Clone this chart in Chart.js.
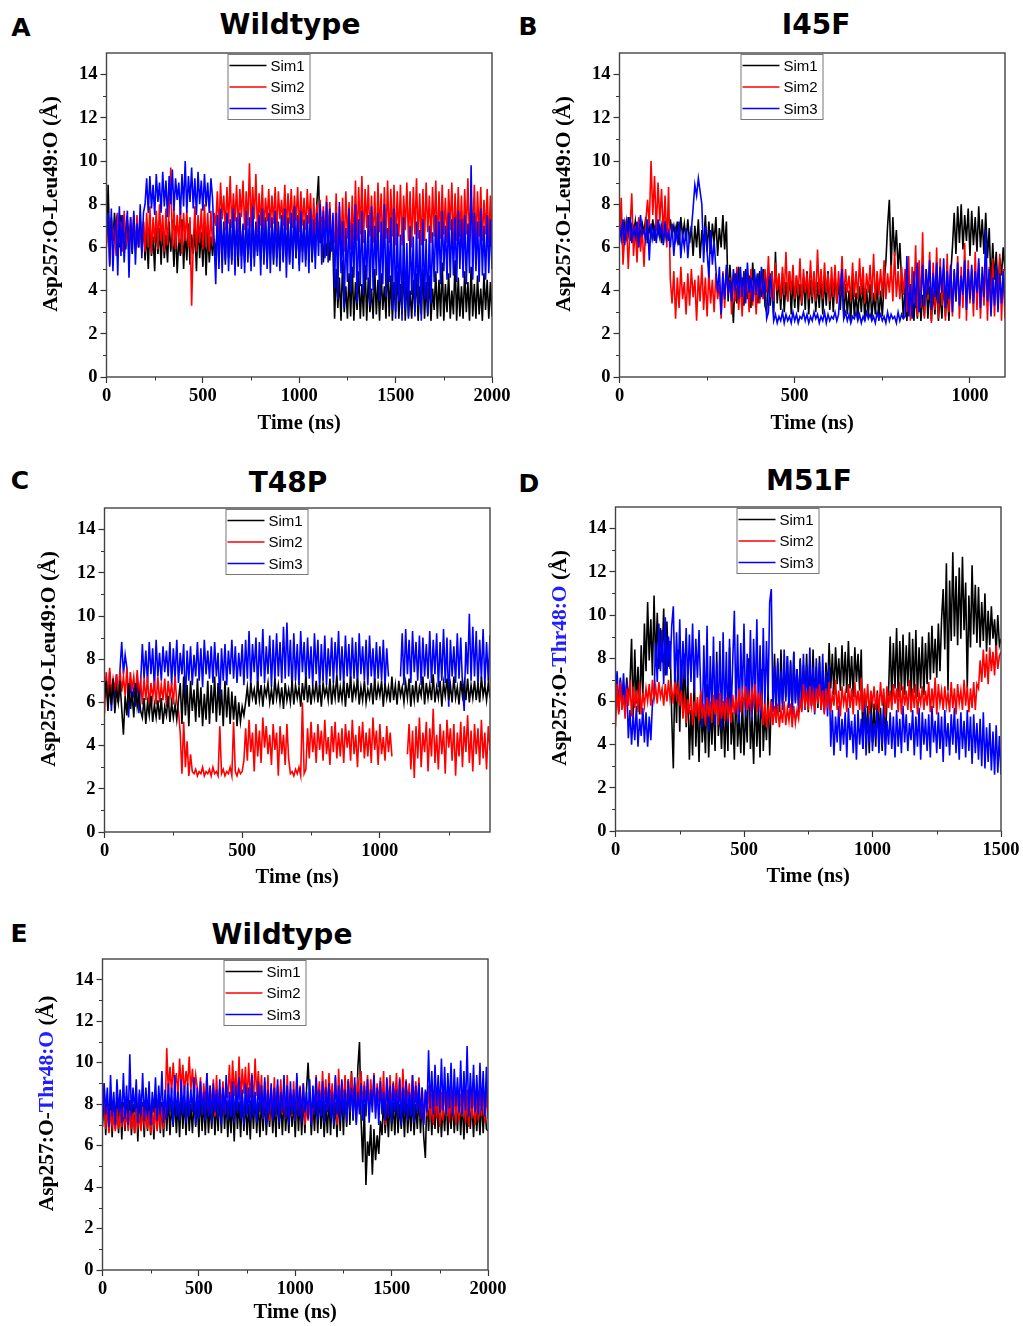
<!DOCTYPE html>
<html>
<head>
<meta charset="utf-8">
<script src="https://cdn.jsdelivr.net/npm/chart.js@4.4.1/dist/chart.umd.min.js"></script>
<style>
  html, body { margin: 0; padding: 0; background: #fff; }
  #page { position: relative; width: 1023px; height: 1326px; overflow: hidden; }
  .box { position: absolute; }
  .tag { position: absolute; font-family: 'DejaVu Sans'; font-weight: bold; font-size: 25px; color: #000; transform: translate(-50%, -50%); line-height: 1; }
  .ttl { position: absolute; font-family: 'DejaVu Sans'; font-weight: bold; font-size: 28px; color: #000; transform: translate(-50%, -50%); line-height: 1; white-space: nowrap; }
</style>
</head>
<body>
<div id="page">
  <div class="tag" style="left:21px;top:27px">A</div>
  <div class="ttl" style="left:290px;top:25px">Wildtype</div>
  <div class="tag" style="left:528px;top:26px">B</div>
  <div class="ttl" style="left:816px;top:25px">I45F</div>
  <div class="tag" style="left:20px;top:480px">C</div>
  <div class="ttl" style="left:288px;top:483px">T48P</div>
  <div class="tag" style="left:529px;top:483px">D</div>
  <div class="ttl" style="left:809px;top:481px">M51F</div>
  <div class="tag" style="left:19px;top:933px">E</div>
  <div class="ttl" style="left:282px;top:935px">Wildtype</div>

  <div class="box" style="left:0px;top:45px"><canvas id="cA" width="512" height="400"></canvas></div>
  <div class="box" style="left:512px;top:45px"><canvas id="cB" width="511" height="400"></canvas></div>
  <div class="box" style="left:0px;top:500px"><canvas id="cC" width="512" height="400"></canvas></div>
  <div class="box" style="left:512px;top:500px"><canvas id="cD" width="511" height="400"></canvas></div>
  <div class="box" style="left:0px;top:952px"><canvas id="cE" width="512" height="374"></canvas></div>
</div>
<script>
// axis ticks
const yTicks = [0, 2, 4, 6, 8, 10, 12, 14];
const yMinor = [1, 3, 5, 7, 9, 11, 13];
const xTicksA = [0, 500, 1000, 1500, 2000], xMinorA = [250, 750, 1250, 1750];
const xTicksB = [0, 500, 1000], xMinorB = [250, 750];
const xTicksC = [0, 500, 1000], xMinorC = [250, 750, 1250];
const xTicksD = [0, 500, 1000, 1500], xMinorD = [250, 750, 1250];
const xTicksE = [0, 500, 1000, 1500, 2000], xMinorE = [250, 750, 1250, 1750];
const simNames = ['Sim1', 'Sim2', 'Sim3'];

// A - Wildtype, 0-2000 ns, evenly spaced frames
const tEndA = 2000;
const simA1 = [6.2,8.9,5.9,7.4,6.3,7.6,5.8,7.2,6.0,7.5,6.1,7.0,5.9,7.3,6.4,7.1,5.7,7.5,6.2,6.9,6.0,7.4,5.8,7.2,
  5.4,6.8,5.0,7.1,5.6,6.5,4.9,7.3,5.7,6.9,5.2,7.0,5.5,6.6,5.3,7.2,5.8,6.7,5.1,7.0,4.8,6.4,5.6,7.3,5.0,6.8,5.4,7.1,5.2,6.6,5.7,6.9,4.9,7.2,5.5,6.7,5.1,7.0,4.7,6.8,5.3,6.5,5.6,6.4,
  5.6,7.2,5.3,7.4,5.8,6.9,5.2,7.5,5.5,7.1,5.4,7.3,5.9,6.8,5.1,7.4,5.6,7.0,5.3,7.2,
  5.7,6.9,5.2,7.6,5.5,7.0,5.8,7.3,5.4,7.1,5.6,7.4,5.3,6.9,5.7,7.2,5.2,7.5,5.5,7.0,
  5.8,7.3,5.4,7.1,5.6,7.4,5.3,6.9,5.7,7.2,5.5,7.5,5.2,7.0,5.8,7.3,5.4,7.1,5.6,7.4,
  5.3,7.0,5.7,8.1,9.3,6.2,7.4,5.3,6.4,5.6,7.0,5.4,6.8,5.9,
  2.7,5.0,3.2,4.6,2.6,5.4,3.0,4.2,2.7,4.8,2.8,5.1,2.6,4.4,3.1,4.9,2.7,4.3,2.8,5.2,
  2.6,4.6,3.0,4.1,2.7,5.0,2.9,4.5,2.6,4.8,3.1,4.2,2.7,5.5,2.8,4.7,2.6,4.4,3.0,4.9,
  2.7,4.3,2.9,5.1,2.6,4.6,2.8,4.0,2.7,4.5,3.0,4.8,2.6,4.2,2.9,5.0,2.7,4.4,2.8,4.7,
  2.6,4.1,3.1,4.9,2.7,4.5,2.8,5.3,2.6,4.3,3.0,4.8,2.7,4.0,2.9,5.4,2.6,4.6,2.8,4.2,
  2.7,4.9,3.0,4.4,2.6,5.1,2.8,4.3,2.7,4.7,2.9,4.1,2.6,4.8,3.1,4.5,2.7,4.4,2.8];
const simA2 = [6.0,7.5,5.2,7.3,6.4,7.0,5.6,7.6,6.2,7.2,5.8,7.7,6.1,6.9,5.7,7.4,6.3,7.1,5.9,7.5,6.0,7.3,5.8,7.2,
  5.8,7.6,6.0,7.9,5.7,7.4,6.2,7.7,5.9,8.0,6.3,7.5,5.8,7.8,6.1,7.6,9.7,6.0,7.8,5.9,7.5,6.2,7.9,5.7,7.6,6.3,7.7,6.0,7.4,3.3,6.1,7.9,5.8,7.5,6.2,7.8,5.9,8.0,6.0,7.6,5.8,7.7,6.1,7.6,
  7.0,8.6,6.7,9.0,7.3,8.4,6.8,8.8,7.1,9.3,6.9,8.5,7.2,8.9,6.7,8.7,7.4,9.1,6.8,8.6,
  7.0,9.9,6.9,8.8,7.3,9.4,6.7,8.5,7.0,8.9,6.8,8.3,7.2,8.7,6.9,8.4,7.1,8.8,6.7,8.6,
  7.3,8.2,7.0,8.9,6.8,8.5,7.1,8.7,6.9,8.4,7.2,8.8,6.7,8.6,7.0,8.3,6.8,8.7,7.1,8.5,
  6.4,8.3,6.6,8.0,6.3,8.2,6.5,7.9,6.4,8.4,6.6,8.1,6.3,6.8,
  6.2,8.5,5.6,7.9,6.0,8.3,5.8,8.6,6.4,8.1,5.9,8.4,6.1,9.1,6.3,8.8,6.6,9.3,6.2,8.7,
  6.9,8.9,6.5,8.4,6.2,8.6,5.9,9.0,6.7,8.5,6.0,8.8,6.4,9.1,6.2,8.7,6.5,8.9,6.1,8.6,
  6.5,8.9,6.1,8.4,6.8,9.0,6.3,8.6,6.0,8.8,6.6,9.2,6.4,8.5,6.1,8.7,6.3,9.0,6.7,8.4,
  6.2,8.8,6.5,9.1,6.0,8.6,6.4,8.9,6.6,8.3,6.2,8.7,6.8,9.0,6.1,8.5,6.3,8.8,6.5,8.4,
  6.0,8.7,6.6,9.2,6.2,8.5,6.4,8.9,6.1,8.6,6.5,8.8,6.3,8.2,6.6,8.7,6.2,8.4,6.3];
const simA3 = [6.5,7.6,5.1,7.8,4.9,6.9,7.3,4.7,7.9,5.6,7.5,5.3,6.8,7.7,4.6,7.4,5.8,7.7,5.2,7.1,6.0,8.0,5.5,7.6,
  8.0,9.2,7.6,9.3,7.8,8.9,7.5,9.4,8.1,9.0,7.6,9.5,7.9,9.1,7.4,9.3,8.0,9.6,7.7,9.2,8.2,9.0,7.5,9.4,7.9,10.0,7.6,9.3,8.1,9.7,7.8,9.2,7.5,9.5,8.0,9.1,7.7,9.4,7.9,9.0,7.6,9.2,8.3,6.3,
  4.3,7.5,5.0,7.8,4.8,7.2,5.4,7.6,4.9,7.3,5.2,7.8,4.7,7.4,5.5,7.6,5.0,7.1,4.8,7.7,
  5.3,7.4,4.9,7.9,5.1,7.2,5.6,7.5,4.7,7.8,5.2,7.3,5.0,7.6,4.8,7.4,5.4,7.7,5.1,7.2,
  4.9,7.5,5.3,7.8,4.6,7.3,5.2,7.6,5.0,7.9,5.5,7.4,4.9,7.7,5.3,7.2,5.1,7.5,4.8,7.8,
  5.4,7.3,5.0,7.6,5.6,8.0,5.2,7.7,5.5,8.1,5.3,7.8,5.8,7.6,
  4.1,7.6,3.6,8.1,4.8,7.2,3.2,6.9,4.4,7.8,3.9,7.1,4.6,8.0,3.4,7.3,4.2,7.7,3.8,6.8,
  4.5,7.5,3.3,7.9,4.0,7.0,4.7,7.6,3.5,7.2,4.3,8.0,3.7,6.9,4.4,7.4,3.1,7.8,
  2.7,7.1,3.5,6.6,2.6,7.4,3.1,6.2,2.7,7.0,3.8,6.5,2.8,7.2,3.3,6.8,2.6,7.3,3.6,6.4,2.9,7.0,3.4,6.7,
  4.4,7.5,4.8,7.2,4.3,7.7,4.9,7.0,4.5,7.6,4.6,7.3,4.7,7.4,4.4,7.7,5.0,7.3,4.6,7.5,
  4.3,7.1,4.8,9.8,4.5,7.6,4.9,7.2,4.4,7.8,4.7,7.0,4.5,7.5,4.8,7.3,5.0];

// B - I45F, 0-1100 ns
const tEndB = 1100;
const simB1 = [6.6,7.3,6.2,7.1,6.5,7.4,6.3,7.0,6.6,7.2,6.1,7.3,6.4,7.1,6.7,7.4,6.2,7.0,6.5,7.3,6.3,7.2,6.6,7.0,6.2,7.4,6.5,7.1,6.3,7.3,6.6,7.0,6.4,7.2,6.1,7.4,6.5,7.1,6.3,7.3,6.2,7.0,
  5.6,7.0,6.0,7.3,5.5,6.8,6.1,7.5,5.8,7.2,5.7,7.1,6.2,7.4,5.6,6.9,6.0,7.5,5.9,7.2,
  3.5,5.2,4.0,2.5,4.8,3.4,5.1,3.8,4.6,3.3,5.0,3.6,4.7,3.2,5.3,3.9,4.5,3.4,4.9,3.7,5.0,3.3,
  3.0,4.7,3.3,4.9,2.9,5.8,3.4,4.6,3.1,4.8,3.0,4.4,3.5,4.9,2.9,4.5,3.2,4.7,3.0,4.3,3.3,4.6,3.1,4.9,2.9,4.5,3.4,4.8,3.0,4.4,3.2,4.7,2.9,4.6,3.3,4.9,3.1,4.5,3.0,4.8,3.4,4.4,3.1,4.6,
  2.7,4.3,2.9,4.0,2.6,4.5,2.8,3.9,2.7,4.2,3.0,4.4,2.6,4.1,2.8,4.3,2.7,3.9,2.9,4.5,2.6,4.0,2.8,4.4,
  5.3,7.0,8.2,4.9,7.4,5.6,6.8,5.0,6.2,4.4,
  2.7,4.3,2.6,3.9,2.8,4.5,2.6,4.0,2.7,4.4,2.6,3.8,2.8,4.6,2.7,4.2,2.6,4.0,2.9,4.4,2.6,3.9,2.7,4.5,2.8,4.1,2.6,4.7,
  6.0,7.6,5.7,7.9,6.2,8.0,5.9,7.5,6.3,7.8,5.6,7.7,6.1,7.4,5.8,7.9,6.0,7.3,5.7,7.6,5.5,6.9,
  4.2,6.2,4.5,5.8,4.0,5.5,4.7,6.0,4.9];
const simB2 = [6.2,8.3,5.2,6.6,7.3,5.0,6.9,8.5,5.6,7.0,5.3,7.4,5.8,6.8,5.1,7.2,
  8.2,7.0,10.0,7.5,9.3,6.8,9.0,7.2,8.7,6.5,8.4,6.0,
  8.8,4.5,
  3.4,4.9,2.7,4.6,3.2,5.1,3.6,4.4,2.9,4.8,3.3,5.0,3.7,4.5,2.6,4.7,3.5,5.2,3.1,4.6,
  2.8,4.9,3.4,4.5,3.0,4.8,3.6,4.3,2.7,4.9,3.2,5.0,3.8,4.6,2.9,4.7,3.5,5.1,3.1,4.4,
  2.8,4.8,3.6,4.6,3.0,5.0,3.3,4.5,2.9,4.7,3.4,4.8,
  3.6,5.0,3.9,5.6,3.7,4.9,3.5,5.3,4.0,4.8,3.6,5.1,3.8,5.8,3.5,4.9,3.9,5.2,3.6,4.7,
  3.8,5.5,3.4,5.0,3.9,4.8,3.6,5.4,3.7,4.9,3.5,5.9,3.8,5.0,3.6,5.3,3.9,4.8,3.5,5.1,
  3.7,5.2,3.4,4.9,3.8,5.6,3.6,5.0,3.9,4.7,3.5,5.3,3.7,4.9,3.6,5.5,3.8,5.1,3.4,4.8,
  3.9,5.2,3.6,5.7,3.5,4.9,3.8,5.0,3.7,5.4,3.6,4.8,3.9,5.2,3.5,5.8,3.7,4.9,3.6,5.1,3.8,5.0,
  3.0,5.6,2.6,5.1,3.4,6.1,2.8,5.4,3.2,6.7,2.7,5.0,3.6,5.8,2.5,5.3,3.1,6.0,2.7,5.5,
  3.3,5.0,2.6,5.7,3.0,5.2,2.8,4.9,3.5,5.6,2.7,5.1,3.2,6.2,2.6,5.4,3.4,5.0,2.8,5.8,
  3.1,5.3,2.7,4.8,3.3,5.6,2.6,5.1,3.0,5.5,2.8,4.9,3.2,5.7,2.6,5.0,2.7];
const simB3 = [7.0,6.4,7.3,6.1,7.2,6.6,7.4,6.2,6.9,6.5,7.2,6.0,7.5,6.6,6.8,6.3,7.3,5.4,7.1,6.4,6.9,6.2,7.3,6.5,7.0,6.1,7.2,6.4,6.7,6.0,7.1,5.6,6.8,6.3,7.2,5.5,6.6,6.0,6.9,5.5,6.6,6.8,
  7.8,8.9,8.4,9.2,8.6,8.0,
  5.3,7.0,5.8,4.6,6.8,5.2,6.3,5.0,
  3.9,5.1,2.9,4.8,3.6,5.2,3.8,4.5,3.5,5.0,4.1,4.7,3.6,5.1,3.7,4.9,3.4,5.3,3.9,4.6,3.5,5.0,3.8,4.8,3.6,5.1,3.9,4.4,
  2.7,3.0,4.8,3.9,2.6,2.9,2.5,2.8,2.6,3.0,2.5,2.9,2.6,2.8,2.5,3.0,2.6,2.9,2.5,2.8,2.7,3.0,2.6,2.9,2.5,2.8,2.6,3.0,2.7,2.9,2.5,2.8,2.6,3.0,2.5,2.9,2.6,2.8,2.7,3.0,2.6,2.9,4.2,5.0,
  2.7,3.0,2.6,2.9,2.5,2.8,2.7,3.0,2.6,2.9,2.5,2.8,2.6,3.0,2.7,2.9,2.6,2.8,2.5,3.0,2.7,2.9,2.6,2.8,2.5,3.0,2.6,2.9,2.7,2.8,2.5,3.0,2.6,2.9,2.7,2.8,
  5.6,2.8,4.3,2.7,4.9,3.2,5.3,3.0,
  3.6,5.2,3.3,5.0,3.8,5.4,3.1,4.8,3.7,5.3,3.4,5.1,3.9,5.5,3.2,4.9,3.6,5.2,3.0,5.0,
  3.5,5.3,3.3,4.7,3.8,5.4,3.1,5.0,3.6,5.2,3.4,4.9,3.9,5.5,3.2,5.1,3.7,6.8,3.5,5.0,
  2.8,4.6,3.3,5.2,3.0,4.8,3.4,4.9,3.3];

// C - T48P, 0-1400 ns (null = no frames)
const tEndC = 1400;
const simC1 = [6.2,7.0,5.6,6.8,5.9,7.1,5.5,6.6,6.0,7.0,5.7,4.5,6.3,5.4,6.9,5.7,6.5,5.3,6.9,5.8,6.4,5.6,
  5.3,6.2,5.0,6.0,5.4,6.3,5.1,5.9,5.3,6.1,5.2,6.2,5.0,5.8,5.4,6.3,5.1,6.0,5.3,5.9,5.2,6.1,
  6.9,5.0,7.2,5.4,6.8,4.9,7.0,5.6,6.6,5.1,7.1,5.3,6.7,4.9,6.4,5.2,7.0,5.0,6.8,5.5,
  7.2,5.1,6.9,5.4,6.6,4.9,7.0,5.3,6.7,5.0,6.5,5.2,6.3,4.9,6.0,5.1,5.8,5.4,
  6.0,6.7,5.8,6.9,6.2,6.6,5.9,7.0,6.1,6.8,5.8,6.7,6.3,6.9,6.0,6.6,5.9,7.1,6.2,6.8,
  6.0,6.7,5.7,6.9,6.1,6.6,6.0,7.0,5.9,6.8,6.2,6.7,5.8,6.9,6.1,7.2,6.0,6.8,5.9,6.7,
  6.2,7.0,6.0,6.8,5.8,6.9,6.3,6.7,6.1,7.1,5.9,6.8,6.2,7.3,6.0,6.7,6.1,7.0,5.8,6.9,
  6.2,7.2,6.0,6.8,6.3,7.1,5.9,6.7,6.1,7.0,6.0,6.6,6.2,6.9,5.9,7.1,6.1,6.8,6.3,7.0,
  5.8,6.9,6.2,6.7,6.0,7.2,6.1,6.8,5.9,7.0,6.3,6.7,6.0,6.9,6.2,7.1,5.8,6.8,6.1,7.0,
  6.0,6.7,6.3,7.2,5.9,6.9,6.2,6.8,6.1,7.3,6.0,6.7,6.2,7.0,5.8,6.9,6.3,7.1,6.1,6.8,
  6.0,7.2,6.2,6.7,5.9,7.0,6.3,6.9,6.1,7.1,6.0,6.8,6.2,7.0,6.1,6.9,6.0,7.2,6.3,6.8,
  6.1,6.9,6.2];
const simC2 = [5.5,7.4,6.2,7.6,6.4,7.1,6.6,7.3,6.0,7.5,6.5,7.2,6.3,7.6,6.1,7.4,6.6,7.2,6.3,7.5,6.4,7.0,
  5.9,7.1,6.1,7.2,5.8,6.9,6.2,7.0,5.9,7.2,6.0,6.8,6.1,7.1,5.8,7.0,6.2,6.9,5.9,7.2,6.0,5.6,
  4.6,2.7,5.1,3.0,4.2,2.6,3.6,2.8,
  2.7,2.9,2.6,2.8,2.7,3.0,2.6,2.8,2.7,2.9,2.6,3.0,2.7,2.8,2.6,4.9,2.7,2.9,2.6,2.8,2.7,3.0,2.6,5.1,2.8,2.6,2.9,2.7,2.8,3.3,
  4.8,3.3,5.2,3.7,4.6,2.8,5.0,3.5,4.7,3.2,5.3,3.9,4.9,3.6,4.5,3.1,5.0,3.8,4.6,2.6,
  4.9,3.6,4.5,3.1,5.0,3.4,2.7,2.8,2.6,2.9,2.7,3.0,2.6,6.0,2.7,2.9,4.8,3.4,5.1,3.7,
  4.6,3.2,5.0,3.8,4.7,3.3,5.2,3.6,4.4,3.1,4.9,3.7,5.1,3.4,4.6,3.5,4.8,3.2,5.0,3.9,
  4.7,3.3,5.2,3.6,4.5,3.0,4.9,3.7,5.1,3.4,4.6,3.5,4.8,3.2,5.3,3.8,4.7,3.1,5.0,3.6,
  4.4,3.3,4.9,3.7,4.6,3.5,
  null,null,null,null,null,null,null,null,
  3.6,5.0,2.9,4.7,2.5,4.9,3.4,5.3,3.0,4.6,3.7,5.1,2.8,4.8,3.5,5.7,3.2,4.5,2.9,5.0,
  3.6,4.7,2.7,5.2,3.9,4.8,3.3,5.0,2.6,4.6,3.5,5.1,3.0,4.9,3.7,5.4,3.2,4.7,2.8,5.0,
  3.6,4.8,3.1,5.2,3.4,4.6,2.9,4.9,3.8];
const simC3 = [6.5,7.2,5.9,7.4,5.6,7.0,6.2,7.3,6.0,7.5,
  8.8,7.3,8.2,7.6,
  5.3,7.1,6.0,6.6,5.8,7.2,5.5,6.9,
  8.7,7.1,8.4,6.9,8.8,7.3,8.5,6.6,8.9,7.2,8.3,7.0,8.6,7.4,8.4,7.2,8.8,6.8,8.5,7.1,
  8.9,6.9,8.3,7.3,8.7,5.9,8.4,7.0,8.6,6.8,8.2,7.2,8.8,7.0,8.5,6.7,8.9,7.3,8.4,7.1,
  8.6,6.9,8.8,7.2,8.3,6.0,8.5,7.0,8.7,6.8,8.4,7.3,8.9,7.1,8.6,6.9,8.3,7.2,8.7,6.8,
  8.9,7.1,9.3,6.8,8.7,7.4,9.0,6.6,8.8,7.2,9.4,6.9,8.6,7.3,9.1,6.7,8.9,7.0,9.2,7.2,
  8.8,6.9,9.5,7.1,9.7,7.2,8.9,6.5,9.2,7.0,8.7,6.8,9.3,7.4,8.8,6.9,9.0,7.1,8.6,6.7,
  9.2,7.3,8.9,6.6,8.7,7.0,9.1,6.8,8.5,7.2,9.0,6.9,8.8,7.3,9.3,7.0,8.6,6.8,9.1,7.2,
  8.7,6.9,9.0,7.1,8.8,6.7,9.2,7.3,8.6,7.0,8.9,6.8,9.1,7.2,8.5,6.9,8.8,7.1,8.6,7.0,
  8.9,6.8,8.5,7.2,
  null,null,null,null,null,null,
  7.2,9.2,6.8,9.4,7.3,8.9,6.9,9.3,7.4,8.8,7.0,9.1,6.8,9.0,7.2,8.7,7.1,9.3,6.9,8.9,
  7.3,9.2,6.7,8.8,7.0,9.4,6.9,9.0,5.8,8.9,7.2,8.6,6.9,9.2,7.1,9.0,6.8,5.6,8.8,7.3,
  10.1,7.0,9.5,7.2,9.3,6.7,8.9,7.1,9.4,6.8,8.8,7.0,9.1];

// D - M51F, 0-1500 ns
const tEndD = 1500;
const simD1 = [6.0,6.9,5.5,7.0,5.8,6.7,5.6,7.1,6.1,6.8,
  8.9,5.2,8.4,5.9,7.6,5.4,8.6,6.2,
  9.6,7.4,10.6,7.9,9.8,7.2,10.9,7.6,10.1,7.5,9.4,7.8,10.3,7.2,9.7,7.6,
  8.8,5.3,2.9,7.6,5.0,8.4,4.6,7.9,5.4,8.2,4.8,7.1,
  3.3,5.6,3.5,7.4,3.9,5.9,3.2,6.3,4.1,5.5,3.6,6.8,3.4,5.8,4.0,6.1,3.7,8.3,4.4,5.7,3.8,6.0,
  3.4,5.8,3.7,8.5,4.0,5.5,3.3,7.0,3.9,5.4,3.6,6.2,3.5,5.6,4.1,8.0,3.8,5.3,3.1,6.4,3.9,5.7,3.4,7.5,3.7,5.5,4.2,6.6,3.5,6.1,
  5.6,8.2,6.0,7.8,5.5,8.4,5.9,7.6,6.2,8.1,5.7,7.9,5.4,8.3,6.0,7.5,5.8,8.0,5.6,7.7,6.1,8.2,5.5,7.9,5.8,8.4,6.0,7.6,5.7,8.1,5.9,7.4,5.6,7.8,
  6.4,8.7,6.6,8.2,6.3,8.5,6.8,8.0,6.5,8.6,6.7,8.3,6.4,8.8,6.6,8.1,6.2,8.5,6.9,8.2,6.5,8.4,
  3.8,6.4,4.3,5.8,3.6,6.2,4.1,5.9,3.9,6.5,4.4,5.7,3.7,6.1,4.2,6.0,
  6.4,9.0,6.1,8.7,6.6,9.4,6.2,8.8,6.5,9.1,6.3,8.6,6.7,9.2,6.0,8.9,6.4,9.3,6.2,8.5,6.6,9.0,6.3,8.7,
  6.8,9.2,7.0,9.5,7.3,8.9,7.1,9.6,7.4,9.8,
  11.2,8.4,12.4,6.5,11.6,8.8,12.9,9.0,11.8,8.6,12.2,8.9,12.7,9.3,11.5,6.6,10.9,8.5,12.3,9.1,11.4,8.7,
  11.3,8.5,10.6,8.8,11.0,8.3,10.2,8.6,10.4,8.9,9.8,8.3,10.0,8.6,8.9];
const simD2 = [4.8,6.8,5.4,6.9,5.6,6.3,5.2,6.6,5.8,7.0,5.3,6.7,5.7,6.5,5.5,6.9,5.4,6.4,5.8,6.6,
  6.0,6.8,5.8,7.0,6.1,6.7,5.9,6.9,6.2,6.6,5.8,6.8,6.0,7.0,6.1,6.6,5.9,6.9,6.2,6.7,5.8,6.5,
  5.2,6.3,5.0,6.1,5.4,6.4,4.9,6.0,5.3,6.2,5.1,6.5,5.2,5.9,4.9,6.2,5.3,6.0,5.0,6.3,5.4,6.1,4.9,6.4,5.2,6.0,5.1,6.2,5.3,5.9,5.0,6.3,5.4,6.1,
  5.6,6.6,5.5,6.4,5.8,6.7,5.6,6.3,5.7,6.5,5.9,6.8,5.5,6.4,5.7,6.2,
  4.9,5.9,4.8,5.7,5.1,6.0,4.9,5.8,5.0,5.9,4.8,5.6,5.0,6.0,4.9,5.7,5.1,5.9,4.8,5.8,5.0,5.6,5.2,6.1,
  5.5,6.8,5.7,6.5,5.6,6.7,5.8,6.4,5.5,6.6,5.9,6.8,5.6,6.5,
  5.4,6.6,5.7,6.9,5.5,6.4,5.8,7.0,5.6,6.5,5.3,6.7,5.9,6.4,5.5,6.8,5.7,6.6,5.4,6.9,
  5.8,6.5,5.6,7.1,5.5,6.6,5.7,6.8,5.4,6.5,5.9,6.7,5.6,6.4,5.5,6.9,5.8,6.6,5.3,6.7,
  5.7,6.5,5.6,6.8,5.9,6.6,5.5,6.9,5.4,6.7,5.8,6.5,5.6,7.0,5.5,6.6,5.7,6.8,5.4,6.4,
  5.9,6.7,5.6,6.5,5.8,6.9,5.5,6.6,5.7,7.1,5.4,6.8,5.9,6.5,5.6,6.7,5.8,6.4,5.5,6.9,
  5.7,6.6,5.4,6.8,5.9,6.5,5.6,7.0,5.8,6.7,5.5,6.6,5.7,6.9,5.6,6.8,
  6.6,7.9,6.9,8.4,7.1,8.2,6.8,8.5,7.4,8.3,7.2,8.6,7.5,8.1,8.3];
const simD3 = [6.2,7.4,5.6,7.1,6.0,7.3,5.8,6.9,
  4.3,5.6,4.0,5.4,4.2,5.8,3.9,5.2,4.4,5.7,4.1,5.5,3.9,5.3,4.2,5.9,
  6.3,8.7,6.9,9.6,7.4,9.3,6.8,9.9,7.2,9.0,7.5,9.5,
  10.4,6.6,9.2,6.8,9.8,6.5,8.8,7.0,9.4,6.7,9.1,6.9,9.6,6.4,8.9,7.1,9.3,6.6,
  4.8,8.6,5.2,9.5,4.6,8.1,5.5,9.0,4.9,7.8,5.3,8.8,4.7,9.2,5.1,8.3,4.9,8.9,5.4,7.9,
  10.2,5.4,9.1,5.0,8.7,6.1,9.6,5.3,8.2,5.7,9.3,5.1,8.9,6.0,9.8,5.5,8.6,5.2,9.4,5.8,8.8,6.2,10.6,11.2,
  5.5,7.6,5.3,8.0,5.8,7.4,5.6,8.4,6.0,8.1,5.7,7.8,5.4,8.3,5.9,7.5,5.5,7.9,5.7,8.2,5.6,7.7,6.1,8.5,5.8,7.6,5.4,8.0,5.9,7.8,5.6,8.2,5.5,7.4,5.3,7.7,
  3.9,5.6,3.5,5.3,4.1,5.8,3.7,5.2,4.0,5.5,3.4,5.7,4.2,5.1,3.6,5.4,3.3,5.6,4.0,5.2,
  3.8,5.9,3.5,5.3,4.1,5.5,3.7,5.0,4.3,5.6,3.6,5.4,3.9,5.7,3.5,5.1,4.0,5.5,3.8,5.3,
  3.4,5.6,3.9,5.2,3.6,5.8,4.1,5.4,3.7,5.0,4.2,5.6,3.5,5.3,3.9,5.7,3.3,5.5,4.0,5.2,
  3.7,5.4,3.4,5.8,4.1,5.1,3.6,5.5,3.8,5.3,3.2,5.6,3.9,5.0,3.5,5.4,4.0,5.7,3.6,5.2,
  3.3,5.5,3.8,5.1,3.4,5.6,3.7,5.3,3.1,5.4,3.6,5.0,3.3,5.2,3.0,5.5,2.9,4.8,3.2,5.0,
  2.8,4.6,2.6,4.9,2.7,4.4,2.6];

// E - Wildtype (Thr48), 0-2000 ns
const tEndE = 2000;
const simE1 = [6.9,8.6,6.5,8.2,6.7,8.4,6.4,8.0,6.8,8.3,6.6,8.5,6.3,8.1,6.7,8.4,6.9,8.2,6.5,8.0,
  6.6,8.3,6.2,8.5,6.8,8.1,6.4,8.4,6.7,8.2,6.5,8.0,6.3,8.3,6.8,8.5,6.6,8.1,6.4,8.2,
  6.7,8.4,6.5,8.0,6.9,8.3,6.6,8.1,6.4,8.5,6.8,8.2,6.5,8.4,6.7,8.0,6.6,8.3,6.9,8.1,
  6.4,8.5,6.7,8.2,6.5,8.4,6.6,8.0,6.8,8.3,6.5,8.1,6.7,8.4,6.6,8.6,6.8,8.2,6.4,8.0,
  6.6,8.3,6.2,8.5,6.8,8.1,6.4,8.4,6.7,8.2,6.5,8.0,6.3,8.3,6.8,8.5,6.6,8.1,6.4,8.2,
  6.7,8.4,6.5,8.0,6.9,8.3,6.6,8.1,6.4,8.5,6.8,8.2,6.5,8.4,6.7,8.0,6.6,8.3,6.9,8.1,
  6.4,8.5,6.7,8.2,6.5,8.4,6.6,8.7,10.0,8.3,6.5,8.1,6.7,8.4,6.6,8.6,6.8,8.2,6.4,8.0,
  6.6,8.3,6.5,8.5,6.8,8.1,6.4,8.4,6.7,8.6,6.5,8.8,6.9,9.2,7.0,9.6,7.2,8.9,7.1,9.8,
  11.0,7.2,5.2,8.0,4.1,6.2,5.5,7.0,4.6,6.8,5.3,6.5,5.6,7.2,6.5,8.2,6.6,8.0,6.4,8.3,
  6.7,8.1,6.5,8.4,6.6,8.0,6.8,8.2,6.4,8.5,6.6,8.1,6.7,8.3,6.5,8.0,6.8,8.4,6.6,8.2,
  6.4,
  5.4,8.6,6.7,8.3,6.5,8.1,6.8,8.4,6.6,8.2,6.4,8.0,6.7,8.3,6.5,8.1,6.8,8.2,6.6,8.0,
  6.7,8.4,6.5,8.2,6.3,8.0,6.6,8.3,6.8,8.1,6.4,8.2,6.7,8.0,6.5,8.3,6.6,8.1,6.8,6.7];
const simE2 = [7.8,9.0,6.8,7.9,6.6,7.7,6.9,7.5,6.7,7.8,6.8,7.6,6.9,7.9,7.0,7.5,6.7,7.7,6.8,7.6,
  6.6,7.8,6.9,7.4,6.7,7.9,7.0,7.6,6.8,7.7,6.6,7.5,6.9,7.8,6.7,7.6,7.0,7.9,6.8,7.7,
  10.7,8.6,9.8,8.5,10.0,8.8,9.5,8.4,10.2,8.7,9.9,8.5,9.6,8.9,10.3,8.6,9.7,8.4,9.4,8.8,
  7.8,9.3,7.5,9.0,7.9,9.5,7.6,8.9,7.8,9.2,7.4,9.4,7.7,8.8,7.9,9.1,7.5,9.0,
  8.3,9.9,8.1,10.1,8.4,9.6,8.0,10.3,8.2,9.7,8.5,9.8,8.1,10.0,8.3,9.5,8.0,10.2,8.4,9.6,8.2,9.4,
  7.3,9.1,7.5,9.4,7.2,8.8,7.6,9.3,7.4,8.9,7.7,9.2,7.5,9.0,7.3,9.4,7.6,8.7,7.4,9.1,7.2,9.3,7.7,8.9,7.5,9.0,
  7.0,7.9,7.2,8.1,7.1,7.8,
  7.8,9.4,8.0,9.1,7.6,9.6,7.9,9.2,7.7,9.5,8.1,9.0,7.8,9.3,7.0,9.7,7.9,9.1,8.0,9.4,
  7.6,9.2,7.8,9.5,8.1,9.0,7.7,9.3,7.9,9.6,7.8,9.1,8.0,9.4,7.7,9.2,7.9,9.5,7.6,9.0,
  8.1,9.3,7.8,9.6,7.0,9.2,7.9,9.4,7.7,9.1,8.0,9.5,7.8,9.3,7.6,9.7,7.9,9.2,8.1,9.0,
  7.7,9.4,7.9,9.1,7.8,9.3,
  7.3,8.8,7.1,8.6,7.4,8.9,7.2,8.5,7.0,8.7,7.3,8.8,6.9,8.6,7.2,8.9,7.4,8.5,7.1,8.7,
  7.3,8.6,7.0,8.8,7.2,8.5,7.4,8.9,7.1,8.7,6.9,8.6,7.3,8.8,7.0,8.5,7.2,8.7,7.4,8.9,
  7.1,8.6,7.3];
const simE3 = [7.2,9.0,7.5,8.8,6.9,9.4,7.4,8.6,7.0,9.2,7.6,8.7,7.1,9.5,7.3,8.9,7.0,10.4,7.4,8.8,
  7.6,9.2,7.1,8.7,7.5,9.5,7.2,8.8,7.4,9.1,7.0,8.6,7.6,9.3,7.2,8.9,7.5,9.6,7.1,8.7,
  7.3,9.0,7.6,8.8,7.0,9.4,7.4,8.6,7.2,9.2,7.5,8.9,7.1,9.0,7.4,8.7,7.6,9.3,7.0,8.8,
  7.3,9.1,7.5,8.6,7.2,9.5,7.4,8.9,7.1,9.0,7.6,8.7,7.3,9.2,7.0,8.8,7.5,9.4,7.2,8.6,
  7.4,9.1,7.1,8.9,7.6,9.3,7.3,8.7,7.0,9.0,7.5,8.8,7.2,9.4,7.4,8.6,7.1,9.1,7.6,8.9,
  7.3,9.3,7.0,8.7,7.5,9.0,7.2,8.8,7.4,9.2,7.1,8.6,7.6,9.4,7.3,8.9,7.0,9.1,7.5,8.7,
  7.2,9.5,7.4,8.8,7.1,9.0,7.6,8.6,7.3,9.2,7.0,8.9,7.5,9.3,7.2,8.7,7.4,9.1,7.1,8.8,
  7.6,9.0,7.3,8.6,7.0,9.4,7.5,8.9,7.2,9.2,7.4,8.7,7.1,9.1,7.6,8.8,7.3,9.3,7.0,8.6,
  7.5,9.0,7.2,8.9,7.4,9.2,7.1,8.7,7.6,9.4,7.3,8.8,7.0,9.1,7.5,8.6,7.2,9.3,7.4,8.9,
  7.1,9.0,7.6,8.7,7.3,9.2,7.0,8.8,7.5,9.1,7.2,8.6,7.4,9.4,7.1,8.9,7.6,9.0,7.3,8.8,
  7.0,8.7,
  7.6,10.6,7.8,9.6,7.5,9.9,7.9,9.4,7.6,10.2,7.7,9.8,7.5,9.5,7.8,10.0,7.4,9.7,7.9,9.3,
  7.6,10.1,7.5,9.6,7.7,10.8,7.4,9.5,7.8,9.9,7.6,9.4,7.5,10.0,7.7,9.6,7.4,9.8,7.5];

const labelLeu = [{ t: 'Asp257:O-Leu49:O (Å)', c: '#000' }];
const labelThr = [{ t: 'Asp257:O-', c: '#000' }, { t: 'Thr48:O', c: '#1f1fff' }, { t: ' (Å)', c: '#000' }];
const colors = ['#000000', '#ff0000', '#0000ff'];

const panels = [
  { id: 'cA', tEnd: tEndA, sims: [simA1, simA2, simA3], order: [3, 2, 1], xTicks: xTicksA, xMinor: xMinorA, label: labelLeu,
    canvas: { x: 0, y: 45, w: 512, h: 400 }, plot: { l: 106.5, t: 53, r: 492, b: 377 }, xt: 47 },
  { id: 'cB', tEnd: tEndB, sims: [simB1, simB2, simB3], order: [3, 2, 1], xTicks: xTicksB, xMinor: xMinorB, label: labelLeu,
    canvas: { x: 512, y: 45, w: 511, h: 400 }, plot: { l: 619.5, t: 53, r: 1005, b: 377 }, xt: 47 },
  { id: 'cC', tEnd: tEndC, sims: [simC1, simC2, simC3], order: [1, 2, 3], xTicks: xTicksC, xMinor: xMinorC, label: labelLeu,
    canvas: { x: 0, y: 500, w: 512, h: 400 }, plot: { l: 104.5, t: 508, r: 490, b: 832 }, xt: 46 },
  { id: 'cD', tEnd: tEndD, sims: [simD1, simD2, simD3], order: [3, 1, 2], xTicks: xTicksD, xMinor: xMinorD, label: labelThr,
    canvas: { x: 512, y: 500, w: 511, h: 400 }, plot: { l: 615.5, t: 507, r: 1001, b: 831 }, xt: 46 },
  { id: 'cE', tEnd: tEndE, sims: [simE1, simE2, simE3], order: [3, 2, 1], xTicks: xTicksE, xMinor: xMinorE, label: labelThr,
    canvas: { x: 0, y: 952, w: 512, h: 374 }, plot: { l: 102.5, t: 959, r: 488, b: 1270 }, xt: 43 }
];

const serif = 'Liberation Serif';
const tickFont = { family: serif, weight: 'bold', size: 18.5 };
const xTitleSize = 20.5;
const yW = 42;

// frame, minor ticks, legend and the y label
const decor = {
  id: 'decor',
  afterDraw(chart, args, opts) {
    const ctx = chart.ctx, a = chart.chartArea;
    const xs = chart.scales.x, ys = chart.scales.y;
    ctx.save();
    ctx.strokeStyle = '#333';
    ctx.lineWidth = 1;
    ctx.beginPath();
    opts.yMinor.forEach(v => { const p = Math.round(ys.getPixelForValue(v)) + 0.5; ctx.moveTo(a.left, p); ctx.lineTo(a.left - 3.5, p); });
    opts.xMinor.forEach(v => { const p = Math.round(xs.getPixelForValue(v)) + 0.5; ctx.moveTo(p, a.bottom); ctx.lineTo(p, a.bottom + 3.5); });
    ctx.stroke();
    ctx.strokeStyle = '#444';
    ctx.lineWidth = 1.4;
    ctx.strokeRect(a.left, a.top, a.right - a.left, a.bottom - a.top);

    // legend box
    const bx = a.left + 121, by = a.top + 1, bw = 82, bh = 65;
    ctx.fillStyle = '#fff';
    ctx.fillRect(bx, by, bw, bh);
    ctx.strokeStyle = '#777';
    ctx.lineWidth = 1;
    ctx.strokeRect(bx + 0.5, by + 0.5, bw, bh);
    ctx.font = '15px "Liberation Sans"';
    ctx.textBaseline = 'middle';
    chart.data.datasets.forEach((ds, i) => {
      const yy = by + 11.5 + i * 21.5;
      ctx.strokeStyle = ds.borderColor;
      ctx.lineWidth = 1.3;
      ctx.beginPath(); ctx.moveTo(bx + 2, yy); ctx.lineTo(bx + 39, yy); ctx.stroke();
      ctx.fillStyle = '#000';
      ctx.fillText(ds.label, bx + 43, yy + 1);
    });

    // rotated y title, coloured pieces
    ctx.font = 'bold 21.5px "' + serif + '"';
    const total = opts.label.reduce((s, p) => s + ctx.measureText(p.t).width, 0);
    ctx.translate(a.left - 55, (a.top + a.bottom) / 2 - 11);
    ctx.rotate(-Math.PI / 2);
    let x0 = -total / 2;
    ctx.textBaseline = 'middle';
    opts.label.forEach(p => { ctx.fillStyle = p.c; ctx.fillText(p.t, x0, 0); x0 += ctx.measureText(p.t).width; });
    ctx.restore();
  }
};

panels.forEach(p => {
  const xH = p.xt + xTitleSize * 1.2 / 2 + 1;
  const pad = {
    left: p.plot.l - p.canvas.x - yW,
    top: p.plot.t - p.canvas.y,
    right: p.canvas.x + p.canvas.w - p.plot.r,
    bottom: p.canvas.h - (p.plot.b - p.canvas.y) - xH
  };
  const datasets = p.sims.map((vals, k) => ({
    label: simNames[k],
    data: vals.map((v, i) => ({ x: i * p.tEnd / (vals.length - 1), y: v })),
    borderColor: colors[k],
    borderWidth: 1.6,
    pointRadius: 0,
    tension: 0,
    spanGaps: false,
    order: p.order[k]
  }));
  new Chart(document.getElementById(p.id), {
    type: 'line',
    data: { datasets },
    options: {
      responsive: false,
      animation: false,
      events: [],
      layout: { padding: pad },
      plugins: {
        legend: { display: false },
        tooltip: { enabled: false },
        decor: { xMinor: p.xMinor, yMinor: yMinor, label: p.label }
      },
      scales: {
        x: {
          type: 'linear', min: 0, max: p.tEnd,
          afterBuildTicks: s => { s.ticks = p.xTicks.map(v => ({ value: v })); },
          afterFit: s => { s.height = xH; s.paddingLeft = 0; s.paddingRight = 0; },
          grid: { drawOnChartArea: false, drawTicks: true, tickLength: 6, tickColor: '#333', tickWidth: 1.2 },
          border: { display: false },
          ticks: { color: '#000', font: tickFont, padding: 2, maxRotation: 0, autoSkip: false, callback: v => String(v) },
          title: { display: true, text: 'Time (ns)', color: '#000', font: { family: serif, weight: 'bold', size: xTitleSize }, padding: { top: 0, bottom: 1 } }
        },
        y: {
          type: 'linear', min: 0, max: 15,
          afterBuildTicks: s => { s.ticks = yTicks.map(v => ({ value: v })); },
          afterFit: s => { s.width = yW; s.paddingTop = 0; s.paddingBottom = 0; },
          grid: { drawOnChartArea: false, drawTicks: true, tickLength: 6, tickColor: '#333', tickWidth: 1.2 },
          border: { display: false },
          ticks: { color: '#000', font: tickFont, padding: 3, callback: v => String(v) }
        }
      }
    },
    plugins: [decor]
  });
});
</script>
</body>
</html>
